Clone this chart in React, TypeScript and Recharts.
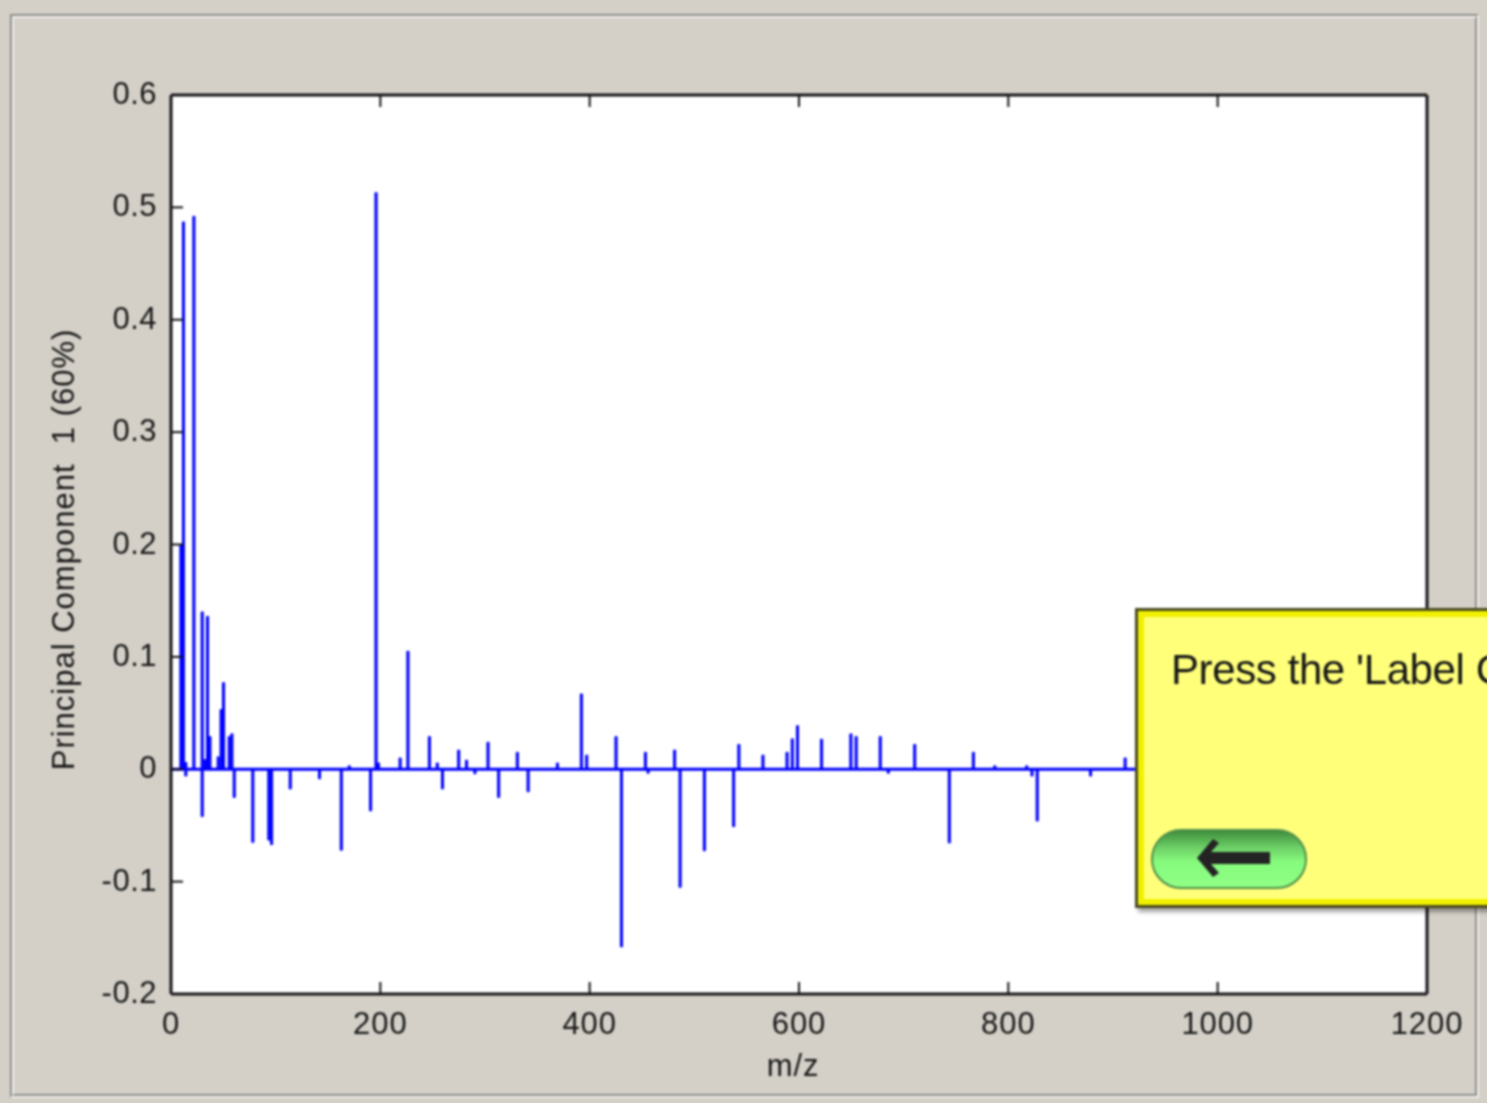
import { ComposedChart, Bar, XAxis, YAxis, CartesianGrid, ReferenceLine } from "recharts";

const MZ_TICKS = [0, 200, 400, 600, 800, 1000, 1200];
const PC_TICKS = [-0.2, -0.1, 0, 0.1, 0.2, 0.3, 0.4, 0.5, 0.6];

// m/z of each stem
const MZ = [
  9.6, 12, 14.3, 14.3, 22, 29.9, 29.9, 32.5, 35, 37.3, 45.2, 48, 50.3, 55.7, 58.3, 60.5, 78.3, 93.6, 96.2, 114,
  142, 162.8, 170.4, 190.8, 196, 198.4, 219, 226.5, 247, 254.5, 259.5, 275, 282.5, 290.5, 303, 313.2, 331, 341.3,
  369.3, 392.2, 397.3, 425.3, 430.5, 453.4, 455.9, 481.3, 486.5, 509.7, 537.7, 542.7, 565.7, 588.7, 593.7, 598.7, 621.7, 649.7, 654.7,
  677.7, 685.4, 710.7, 743.7, 766.7, 787.2, 817.7, 822.7, 827.7, 878.7, 911.7,
];

// loading on principal component 1, same order as MZ
const LOADING = [
  0.2, 0.487, 0.006, -0.006, 0.492, 0.14, -0.042, 0.0085, 0.136, 0.029, 0.011, 0.053, 0.077, 0.029, 0.0315, -0.025,
  -0.065, -0.063, -0.067, -0.0175, -0.0085, -0.072, 0.003, -0.037, 0.513, 0.0055, 0.01, 0.105, 0.029, 0.0055,
  -0.0175, 0.017, 0.008, -0.004, 0.024, -0.025, 0.015, -0.02, 0.0055, 0.067, 0.0125, 0.029, -0.158, 0.015, -0.0035,
  0.017, -0.105, -0.0725, -0.051, 0.022, 0.0125, 0.015, 0.027, 0.0387, 0.0267, 0.0314, 0.029, 0.029, -0.0035, 0.022,
  -0.0655, 0.015, 0.003, 0.003, -0.006, -0.046, -0.006, 0.01,
];

const stems = MZ.map((mz, i) => ({ mz, loading: LOADING[i] }));

const AXIS = "#141414";
const FONT = "Liberation Sans, Arial, sans-serif";
const TICK_STYLE = { fontSize: 31, fontFamily: FONT, fill: "#161616", letterSpacing: 0.9 };
const axisLine = { stroke: AXIS, strokeWidth: 3 };
const tickLine = { stroke: AXIS, strokeWidth: 2 };
const noLabel = () => "";

function HintBox() {
  return (
    <div
      style={{
        position: "absolute",
        left: 1135,
        top: 608,
        width: 420,
        height: 300,
        boxSizing: "border-box",
        background: "#ffff7a",
        border: "9px solid #f0f000",
        outline: "3px solid #4a4a20",
        outlineOffset: -3,
        boxShadow: "3px 4px 4px rgba(0,0,0,0.35)",
        fontFamily: FONT,
      }}
    >
      <div style={{ position: "absolute", left: 27, top: 28, fontSize: 42, letterSpacing: -0.4, lineHeight: "50px", color: "#161616", whiteSpace: "nowrap" }}>
        Press the 'Label C
      </div>
      <div
        style={{
          position: "absolute",
          left: 7,
          top: 212,
          width: 156,
          height: 60,
          boxSizing: "border-box",
          borderRadius: 30,
          border: "2px solid #4f8f4a",
          background: "linear-gradient(#3f8f3c 0%, #6ed068 30%, #86fb7c 55%, #90ff86 100%)",
        }}
      >
        <svg width={156} height={60} style={{ position: "absolute", left: -2, top: 0 }}>
          <path d="M46 27 L62 8 L68 12 L60 21 L119 21 L119 33 L60 33 L68 42 L62 46 Z" fill="#232323" />
        </svg>
      </div>
    </div>
  );
}

export default function App() {
  return (
    <div style={{ position: "absolute", left: 0, top: 0, width: 1487, height: 1103, overflow: "hidden", background: "#d4d0c8" }}>
      <div style={{ position: "absolute", inset: 0, filter: "blur(0.8px)" }}>
        <div
          style={{
            position: "absolute",
            left: 10,
            top: 14,
            width: 1469,
            height: 1084,
            boxSizing: "border-box",
            borderStyle: "solid",
            borderWidth: 2,
            borderColor: "#8f8f8c #f0eeea #f0eeea #8f8f8c",
          }}
        >
          <div
            style={{
              position: "absolute",
              inset: 0,
              borderStyle: "solid",
              borderWidth: 2,
              borderColor: "#f0eeea #8f8f8c #8f8f8c #f0eeea",
            }}
          />
        </div>
        <div style={{ position: "absolute", left: 0, top: 0 }}>
          <ComposedChart width={1487} height={1103} data={stems} margin={{ top: 0, right: 0, bottom: 0, left: 0 }}>
            <CartesianGrid xAxisId="bottom" yAxisId="left" horizontal={false} vertical={false} fill="#ffffff" />
            <XAxis
              xAxisId="bottom"
              type="number"
              dataKey="mz"
              domain={[0, 1200]}
              ticks={MZ_TICKS}
              interval={0}
              height={109}
              tickSize={-12}
              tickMargin={30}
              axisLine={axisLine}
              tickLine={tickLine}
              tick={TICK_STYLE}
              label={{ value: "m/z", position: "insideBottom", offset: 27, dx: -6, style: TICK_STYLE }}
            />
            <XAxis
              xAxisId="top"
              orientation="top"
              type="number"
              dataKey="mz"
              domain={[0, 1200]}
              ticks={MZ_TICKS}
              interval={0}
              height={95}
              tickSize={-12}
              axisLine={axisLine}
              tickLine={tickLine}
              tickFormatter={noLabel}
            />
            <YAxis
              yAxisId="left"
              type="number"
              domain={[-0.2, 0.6]}
              ticks={PC_TICKS}
              interval={0}
              width={171}
              tickSize={-12}
              tickMargin={26}
              axisLine={axisLine}
              tickLine={tickLine}
              tick={{ ...TICK_STYLE, letterSpacing: 0.5, dy: -2 }}
              tickFormatter={(v: number) => String(v)}
              label={{
                value: "Principal Component\u00a0\u00a01 (60%)",
                angle: -90,
                position: "insideLeft",
                offset: 63,
                dy: 5,
                style: { ...TICK_STYLE, letterSpacing: 1, textAnchor: "middle" },
              }}
            />
            <YAxis
              yAxisId="right"
              orientation="right"
              type="number"
              domain={[-0.2, 0.6]}
              ticks={PC_TICKS}
              interval={0}
              width={60}
              tickSize={-12}
              axisLine={axisLine}
              tickLine={tickLine}
              tickFormatter={noLabel}
            />
            <ReferenceLine xAxisId="bottom" yAxisId="left" y={0} stroke="#0000ff" strokeWidth={3} />
            <Bar xAxisId="bottom" yAxisId="left" dataKey="loading" fill="#0000ff" stroke="#0000ff" strokeWidth={1} barSize={3} isAnimationActive={false} />
          </ComposedChart>
        </div>
        <HintBox />
      </div>
    </div>
  );
}
